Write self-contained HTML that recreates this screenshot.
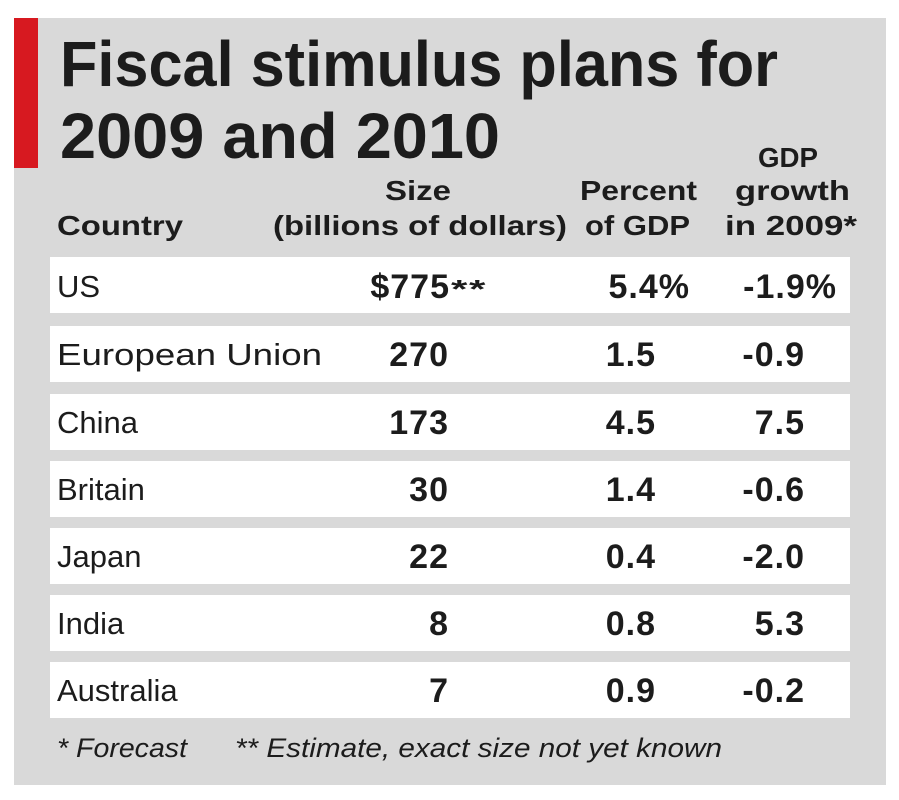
<!DOCTYPE html>
<html><head><meta charset="utf-8"><style>
html,body{margin:0;padding:0;background:#fff;}
svg{display:block;}
text{font-family:"Liberation Sans",sans-serif;fill:#1c1c1c;}
.b{font-weight:bold;}
</style></head><body>
<svg width="899" height="800" viewBox="0 0 899 800" xmlns="http://www.w3.org/2000/svg">
<rect x="0" y="0" width="899" height="800" fill="#fff"/>
<rect x="14" y="18" width="872" height="767" fill="#d9d9d9"/>
<rect x="14" y="18" width="24" height="150" fill="#d71920"/>
<text class="b" x="60" y="86" font-size="64" textLength="718" lengthAdjust="spacingAndGlyphs">Fiscal stimulus plans for</text>
<text class="b" x="60" y="158" font-size="64" textLength="440" lengthAdjust="spacingAndGlyphs">2009 and 2010</text>

<g font-size="28" font-weight="bold">
<text x="57" y="235" textLength="126" lengthAdjust="spacingAndGlyphs">Country</text>
<text x="418" y="200" text-anchor="middle" textLength="66" lengthAdjust="spacingAndGlyphs">Size</text>
<text x="273" y="235" textLength="294" lengthAdjust="spacingAndGlyphs">(billions of dollars)</text>
<text x="580" y="200" textLength="117" lengthAdjust="spacingAndGlyphs">Percent</text>
<text x="585" y="235" textLength="105" lengthAdjust="spacingAndGlyphs">of GDP</text>
<text x="758" y="167" textLength="60" lengthAdjust="spacingAndGlyphs">GDP</text>
<text x="735" y="200" textLength="115" lengthAdjust="spacingAndGlyphs">growth</text>
<text x="725" y="235" textLength="132" lengthAdjust="spacingAndGlyphs">in 2009*</text>
</g>

<g fill="#fff">
<rect x="50" y="257" width="800" height="56"/>
<rect x="50" y="326" width="800" height="56"/>
<rect x="50" y="394" width="800" height="56"/>
<rect x="50" y="461" width="800" height="56"/>
<rect x="50" y="528" width="800" height="56"/>
<rect x="50" y="595" width="800" height="56"/>
<rect x="50" y="662" width="800" height="56"/>
</g>

<g font-size="31">
<text x="57" y="297">US</text>
<text x="57" y="365" textLength="265" lengthAdjust="spacingAndGlyphs">European Union</text>
<text x="57" y="433">China</text>
<text x="57" y="500">Britain</text>
<text x="57" y="567">Japan</text>
<text x="57" y="634">India</text>
<text x="57" y="701">Australia</text>
</g>

<g font-size="34" font-weight="bold" text-anchor="end" letter-spacing="1">
<text x="450" y="298">$775</text><text x="487" y="298" font-size="26" textLength="36" lengthAdjust="spacingAndGlyphs">**</text>
<text x="449" y="366">270</text>
<text x="449" y="434">173</text>
<text x="449" y="501">30</text>
<text x="449" y="568">22</text>
<text x="449" y="635">8</text>
<text x="449" y="702">7</text>

<text x="690" y="298">5.4%</text>
<text x="656" y="366">1.5</text>
<text x="656" y="434">4.5</text>
<text x="656" y="501">1.4</text>
<text x="656" y="568">0.4</text>
<text x="656" y="635">0.8</text>
<text x="656" y="702">0.9</text>

<text x="837" y="298">-1.9%</text>
<text x="805" y="366">-0.9</text>
<text x="805" y="434">7.5</text>
<text x="805" y="501">-0.6</text>
<text x="805" y="568">-2.0</text>
<text x="805" y="635">5.3</text>
<text x="805" y="702">-0.2</text>
</g>

<g font-size="27" font-style="italic">
<text x="57" y="757" textLength="130" lengthAdjust="spacingAndGlyphs">* Forecast</text>
<text x="235" y="757" textLength="487" lengthAdjust="spacingAndGlyphs">** Estimate, exact size not yet known</text>
</g>
</svg>
</body></html>
